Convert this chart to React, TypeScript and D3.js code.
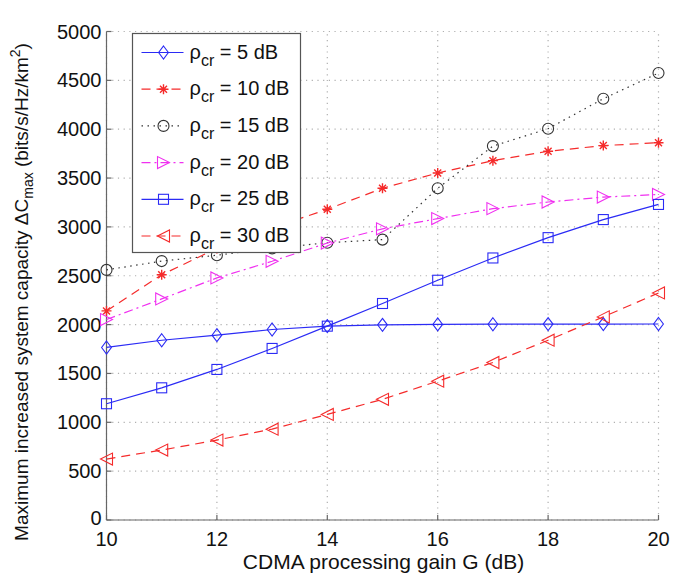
import React from "react";
import * as d3 from "d3";

const gains = [10, 11, 12, 13, 14, 15, 16, 17, 18, 19, 20];
const rho5 = [1766, 1840, 1892, 1950, 1984, 1998, 2002, 2004, 2005, 2005, 2006];
const rho10 = [2140, 2510, 2780, 2990, 3180, 3395, 3552, 3678, 3774, 3832, 3862];
const rho15 = [2560, 2650, 2710, 2780, 2838, 2870, 3395, 3827, 4005, 4312, 4575];
const rho20 = [2052, 2263, 2478, 2648, 2835, 2980, 3085, 3187, 3255, 3305, 3332];
const rho25 = [1190, 1353, 1541, 1756, 1984, 2216, 2454, 2682, 2890, 3075, 3230];
const rho30 = [624, 716, 818, 930, 1081, 1235, 1421, 1612, 1840, 2079, 2324];
const legendLabels = ["5 dB", "10 dB", "15 dB", "20 dB", "25 dB", "30 dB"];
const xTicks = [10, 12, 14, 16, 18, 20];
const yTicks = [0, 500, 1000, 1500, 2000, 2500, 3000, 3500, 4000, 4500, 5000];

const series = [
  { vals: rho5, color: "#2b2bf5", dash: "none", marker: "diamond" },
  { vals: rho10, color: "#f52b2b", dash: "9,6", marker: "star" },
  { vals: rho15, color: "#333333", dash: "1.5,4.5", marker: "circle" },
  { vals: rho20, color: "#f030f0", dash: "9,4,2,4", marker: "tright" },
  { vals: rho25, color: "#2b2bf5", dash: "none", marker: "square" },
  { vals: rho30, color: "#f52b2b", dash: "9,6", marker: "tleft" },
];

const FONT = "Liberation Sans, Arial, sans-serif";

function Marker({ type, x, y, color }: { type: string; x: number; y: number; color: string }) {
  const s = { fill: "none", stroke: color, strokeWidth: 1.1 };
  if (type === "diamond") {
    const r = 6.5;
    return <path d={`M${x},${y - r}L${x + r * 0.75},${y}L${x},${y + r}L${x - r * 0.75},${y}Z`} {...s} />;
  }
  if (type === "circle") return <circle cx={x} cy={y} r={5.5} {...s} />;
  if (type === "square") return <rect x={x - 5} y={y - 5} width={10} height={10} {...s} />;
  if (type === "tright") {
    const r = 6;
    return <path d={`M${x + r},${y}L${x - r},${y - r}L${x - r},${y + r}Z`} {...s} />;
  }
  if (type === "tleft") {
    const r = 6;
    return <path d={`M${x - r},${y}L${x + r},${y - r}L${x + r},${y + r}Z`} {...s} />;
  }
  if (type === "star") {
    const r = 5;
    const d = r * 0.7;
    return (
      <path
        d={`M${x - r},${y}L${x + r},${y}M${x},${y - r}L${x},${y + r}M${x - d},${y - d}L${x + d},${y + d}M${x - d},${y + d}L${x + d},${y - d}`}
        {...s}
        strokeWidth={1.4}
      />
    );
  }
  return null;
}

export default function App() {
  const W = 689, H = 578;
  const x = d3.scaleLinear().domain([10, 20]).range([106.5, 658.5]);
  const y = d3.scaleLinear().domain([0, 5000]).range([520, 31.5]);
  const line = d3
    .line<number>()
    .x((_, i) => x(gains[i]))
    .y((v) => y(v));
  const axisColor = "#666";
  const gridColor = "#b0b0b0";

  const lgX = 132.5, lgY = 33.5, lgW = 168, lgH = 219;
  const rowH = 36.7;

  return (
    <svg width={W} height={H} style={{ position: "absolute", left: 0, top: 0, background: "#fff" }} fontFamily={FONT}>
      <rect width={W} height={H} fill="#fff" />
      {/* grid */}
      {xTicks.map((t) => (
        <line key={"gx" + t} x1={x(t)} x2={x(t)} y1={y(0)} y2={y(5000)} stroke={gridColor} strokeDasharray="1.2,4.5" strokeWidth={1.2} />
      ))}
      {yTicks.map((t) => (
        <line key={"gy" + t} x1={x(10)} x2={x(20)} y1={y(t)} y2={y(t)} stroke={gridColor} strokeDasharray="1.2,4.5" strokeWidth={1.2} />
      ))}
      {/* axes */}
      <line x1={x(10)} x2={x(10)} y1={y(0)} y2={y(5000)} stroke={axisColor} strokeWidth={1.2} />
      <line x1={x(10)} x2={x(20)} y1={y(0)} y2={y(0)} stroke={axisColor} strokeWidth={1.2} />
      {xTicks.map((t) => (
        <g key={"xt" + t}>
          <line x1={x(t)} x2={x(t)} y1={y(0)} y2={y(0) - 5} stroke={axisColor} strokeWidth={1.2} />
          <text x={x(t)} y={y(0) + 26} textAnchor="middle" fontSize={20} fill="#111">{t}</text>
        </g>
      ))}
      {yTicks.map((t) => (
        <g key={"yt" + t}>
          <line x1={x(10)} x2={x(10) + 5} y1={y(t)} y2={y(t)} stroke={axisColor} strokeWidth={1.2} />
          <text x={x(10) - 5} y={y(t) + (t === 0 ? 5 : 7)} textAnchor="end" fontSize={20} fill="#111">{t}</text>
        </g>
      ))}
      {/* series */}
      {series.map((s, k) => (
        <g key={"s" + k}>
          <path d={line(s.vals) || ""} fill="none" stroke={s.color} strokeWidth={1.2} strokeDasharray={s.dash} />
          {s.vals.map((v, i) => (
            <Marker key={i} type={s.marker} x={x(gains[i])} y={y(v)} color={s.color} />
          ))}
        </g>
      ))}
      {/* legend */}
      <rect x={lgX} y={lgY} width={lgW} height={lgH} fill="#fff" stroke="#555" strokeWidth={1.2} />
      {series.map((s, k) => {
        const cy = lgY + 19 + k * rowH;
        return (
          <g key={"lg" + k}>
            <line x1={lgX + 9} x2={lgX + 51} y1={cy} y2={cy} stroke={s.color} strokeWidth={1.2} strokeDasharray={s.dash} />
            <Marker type={s.marker} x={lgX + 31} y={cy} color={s.color} />
            <text x={lgX + 57} y={cy + 6} fontSize={20} fill="#111">
              <tspan>ρ</tspan>
              <tspan fontSize={16} dy={7}>cr</tspan>
              <tspan dy={-7}>{" = " + legendLabels[k]}</tspan>
            </text>
          </g>
        );
      })}
      {/* axis labels */}
      <text x={(x(10) + x(20)) / 2 + 1} y={569} textAnchor="middle" fontSize={21} fill="#111">
        CDMA processing gain G (dB)
      </text>
      <text transform="translate(28,292) rotate(-90)" textAnchor="middle" fontSize={19} fill="#111">
        <tspan>Maximum increased system capacity ΔC</tspan>
        <tspan fontSize={14} dy={5}>max</tspan>
        <tspan dy={-5}> (bits/s/Hz/km</tspan>
        <tspan fontSize={14} dy={-8}>2</tspan>
        <tspan dy={8}>)</tspan>
      </text>
    </svg>
  );
}
